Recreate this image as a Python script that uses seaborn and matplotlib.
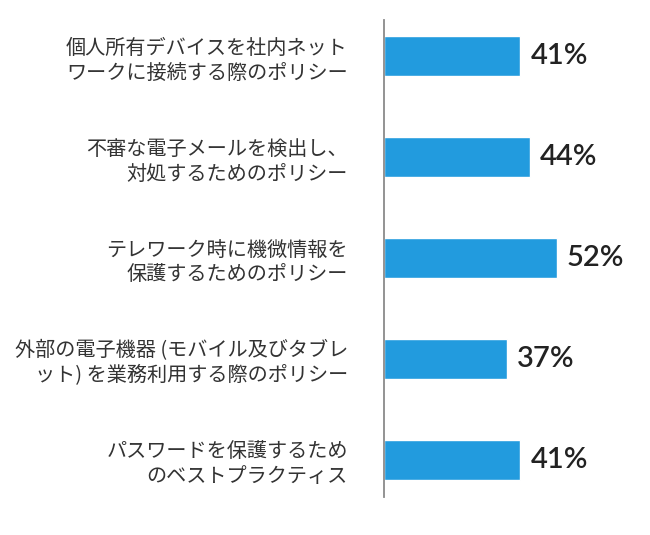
import matplotlib
matplotlib.use("Agg")
import matplotlib.pyplot as plt
import seaborn as sns
import pandas as pd

categories = [
    "個人所有デバイスを社内ネット\nワークに接続する際のポリシー",
    "不審な電子メールを検出し、\n対処するためのポリシー",
    "テレワーク時に機微情報を\n保護するためのポリシー",
    "外部の電子機器 (モバイル及びタブレ\nット) を業務利用する際のポリシー",
    "パスワードを保護するため\nのベストプラクティス",
]
values = [41, 44, 52, 37, 41]

df = pd.DataFrame({"category": categories, "value": values})

sns.set_theme(style="white")
plt.rcParams['font.family'] = ['Noto Sans CJK JP', 'DejaVu Sans']

fig = plt.figure(figsize=(6.5, 5.35), dpi=100)
ax = fig.add_axes([384/650, 38/535, 1 - 384/650, (497-20)/535])

sns.barplot(data=df, x="value", y="category", orient="h", color="#229BDE",
            width=0.4, saturation=1, ax=ax)

ax.set_xlim(0, 80)
ax.set_ylim(4.37, -0.36)
ax.set_xlabel("")
ax.set_ylabel("")
ax.set_xticks([])
for s in ["top", "right", "bottom"]:
    ax.spines[s].set_visible(False)
ax.spines["left"].set_color("#8a8a8a")
ax.spines["left"].set_linewidth(1.3)
ax.tick_params(axis="y", length=0, pad=26)
ax.set_yticks(range(len(categories)))
ax.set_yticklabels(categories, fontsize=14.5, color="#333333", linespacing=1.25,
                   family=['Noto Sans CJK JP', 'DejaVu Sans'])

for i, v in enumerate(values):
    ax.text(v + 3, i, f"{v}%", va="center", ha="left", fontsize=21,
            color="#222222", fontweight="semibold", family=["Lato", "DejaVu Sans"])

fig.savefig("out.png", dpi=100, facecolor="white")
